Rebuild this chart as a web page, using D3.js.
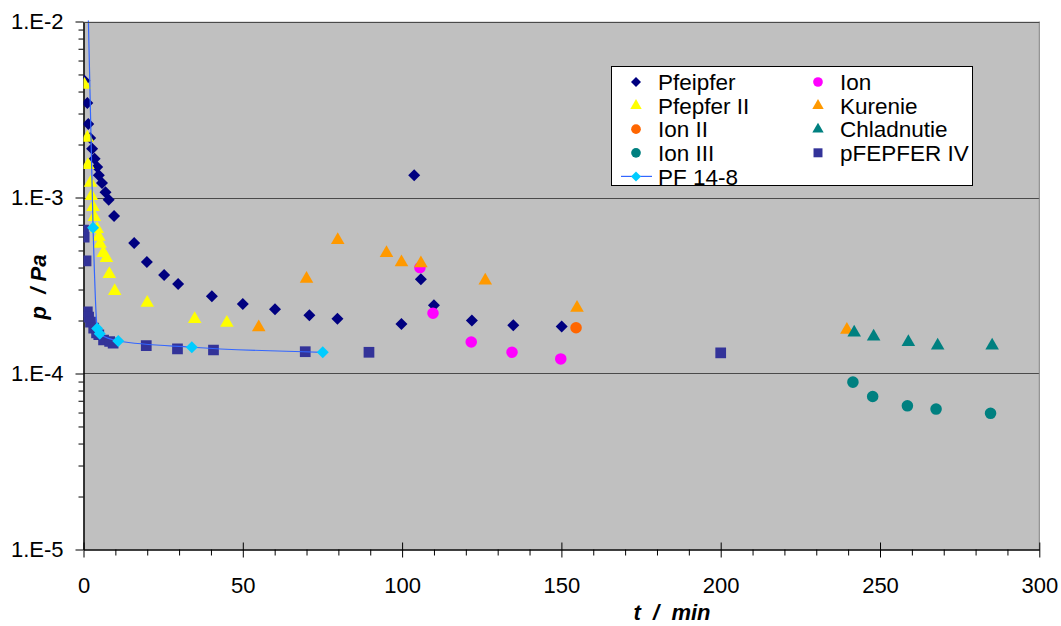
<!DOCTYPE html>
<html>
<head>
<meta charset="utf-8">
<script src="https://cdn.jsdelivr.net/npm/d3@7"></script>
<style>
  body { margin: 0; background: #fff; }
  text { font-family: Arial, "Liberation Sans", sans-serif; }
</style>
</head>
<body>
<svg id="chart" width="1061" height="626"></svg>
<script>
// series data, t in min, p in Pa
var pfeipferT = [0.3, 1.2, 1.5, 2.1, 2.7, 3.5, 4.3, 4.8, 5.8, 6.9, 7.9, 9.6, 15.9, 19.9, 25.3, 29.7, 40.3, 50, 60.1, 70.9, 79.7, 99.8, 103.8, 105.9, 110, 121.9, 134.9, 150.1];
var pfeipferP = [4.61e-3, 3.44e-3, 2.62e-3, 2.18e-3, 1.89e-3, 1.66e-3, 1.49e-3, 1.34e-3, 1.21e-3, 1.07e-3, 9.7e-4, 7.85e-4, 5.51e-4, 4.3e-4, 3.63e-4, 3.23e-4, 2.75e-4, 2.48e-4, 2.32e-4, 2.14e-4, 2.05e-4, 1.91e-4, 1.34e-3, 3.43e-4, 2.44e-4, 2.0e-4, 1.88e-4, 1.85e-4];

var ionT = [105.6, 109.7, 121.7, 134.5, 149.8];
var ionP = [4.0e-4, 2.2e-4, 1.51e-4, 1.32e-4, 1.21e-4];

var pfepfer2T = [0.3, 1.2, 1.4, 2.2, 2.5, 3.0, 3.4, 4.3, 4.8, 5.2, 6.2, 7.2, 8.1, 9.8, 20, 34.9, 45];
var pfepfer2P = [4.36e-3, 2.18e-3, 1.53e-3, 1.21e-3, 1.02e-3, 8.83e-4, 7.75e-4, 6.62e-4, 5.97e-4, 5.45e-4, 4.84e-4, 4.53e-4, 3.67e-4, 2.94e-4, 2.52e-4, 2.04e-4, 1.94e-4];

var kurenieT = [55, 70, 79.8, 95.1, 99.8, 105.9, 126.1, 154.9, 239.6];
var kurenieP = [1.83e-4, 3.45e-4, 5.73e-4, 4.83e-4, 4.28e-4, 4.22e-4, 3.37e-4, 2.36e-4, 1.77e-4];

var ion2T = [154.6];
var ion2P = [1.82e-4];

var chladT = [241.9, 248, 258.9, 268.1, 285.2];
var chladP = [1.71e-4, 1.62e-4, 1.51e-4, 1.44e-4, 1.44e-4];

var ion3T = [241.5, 247.7, 258.6, 267.6, 284.7];
var ion3P = [8.93e-5, 7.4e-5, 6.55e-5, 6.28e-5, 5.94e-5];

var pf4T = [0, 0.2, 0.8, 1.2, 1.6, 2.2, 3.2, 4.1, 4.8, 6.3, 8.2, 9.3, 19.7, 29.5, 40.8, 69.6, 89.6, 200];
var pf4P = [6.53e-4, 5.96e-4, 4.36e-4, 2.24e-4, 2.09e-4, 1.96e-4, 1.81e-4, 1.70e-4, 1.66e-4, 1.55e-4, 1.52e-4, 1.49e-4, 1.44e-4, 1.38e-4, 1.36e-4, 1.33e-4, 1.32e-4, 1.31e-4];

var pf148T = [1.4, 3.0, 4.3, 5.1, 10.9, 34, 75.1];
var pf148P = [1.3e-2, 6.73e-4, 1.80e-4, 1.68e-4, 1.53e-4, 1.41e-4, 1.32e-4];

var xTicks = [0, 50, 100, 150, 200, 250, 300];
var yTicks = [1e-5, 1e-4, 1e-3, 1e-2];
var yTickLabels = ['1.E-5', '1.E-4', '1.E-3', '1.E-2'];

var svg = d3.select('#chart');
var plotLeft = 83.5, plotRight = 1039.3, plotTop = 21.5, plotBottom = 549.5;

var x = d3.scaleLinear().domain([0, 300]).range([plotLeft, plotRight]);
var y = d3.scaleLog().domain([1e-5, 1e-2]).range([plotBottom, plotTop]);

// plot area
svg.append('rect')
	.attr('x', plotLeft).attr('y', plotTop)
	.attr('width', plotRight - plotLeft).attr('height', plotBottom - plotTop)
	.attr('fill', '#c0c0c0');

svg.append('defs').append('clipPath').attr('id', 'clip')
	.append('rect')
	.attr('x', plotLeft).attr('y', plotTop - 1)
	.attr('width', plotRight - plotLeft).attr('height', plotBottom - plotTop + 1);

// gridlines (1.E-2 line is the top of the plot)
svg.append('g').selectAll('line')
	.data(yTicks.slice(1))
	.enter().append('line')
	.attr('x1', plotLeft).attr('x2', plotRight)
	.attr('y1', function(d) { return Math.round(y(d)) + 0.5; })
	.attr('y2', function(d) { return Math.round(y(d)) + 0.5; })
	.attr('stroke', '#4a4a4a')
	.attr('stroke-width', 1);

svg.append('line')
	.attr('x1', plotRight).attr('x2', plotRight)
	.attr('y1', plotTop).attr('y2', plotBottom)
	.attr('stroke', '#808080');

// minor ticks
var minorX = d3.range(0, 301, 10).filter(function(d) { return d % 50 !== 0; });
var minorY = [];
[1e-5, 1e-4, 1e-3].forEach(function(dec) {
	for (var k = 2; k <= 9; k++) minorY.push(dec * k);
});

svg.append('g')
	.attr('transform', 'translate(0,' + plotBottom + ')')
	.call(d3.axisBottom(x).tickValues(minorX).tickSize(6).tickFormat(''))
	.call(function(g) { g.select('.domain').remove(); });

svg.append('g')
	.attr('transform', 'translate(' + plotLeft + ',0)')
	.call(d3.axisLeft(y).tickValues(minorY).tickSize(5).tickFormat(''))
	.call(function(g) { g.select('.domain').remove(); });

// x axis
var xAxis = svg.append('g')
	.attr('transform', 'translate(0,' + plotBottom + ')')
	.call(d3.axisBottom(x).tickValues(xTicks).tickSize(8).tickSizeOuter(0).tickPadding(20));
xAxis.selectAll('.tick line').attr('y1', -7);
xAxis.selectAll('text').attr('font-size', 22).attr('font-family', 'Arial, "Liberation Sans", sans-serif').attr('fill', '#000');
xAxis.select('.domain').attr('stroke', '#000').attr('stroke-width', 1.5);

// y axis
var yAxis = svg.append('g')
	.attr('transform', 'translate(' + plotLeft + ',0)')
	.call(d3.axisLeft(y).tickValues(yTicks).tickSize(8).tickSizeOuter(0).tickPadding(12)
		.tickFormat(function(d, i) { return yTickLabels[i]; }));
yAxis.selectAll('text').attr('font-size', 22).attr('font-family', 'Arial, "Liberation Sans", sans-serif').attr('fill', '#000');
yAxis.select('.domain').attr('stroke', '#000').attr('stroke-width', 1.5);

// axis titles
svg.append('text')
	.attr('transform', 'translate(46,287) rotate(-90)')
	.attr('text-anchor', 'middle')
	.attr('font-size', 22).attr('font-weight', 'bold').attr('font-style', 'italic')
	.style('white-space', 'pre')
	.text('p  / Pa');

svg.append('text')
	.attr('x', 672).attr('y', 620)
	.attr('text-anchor', 'middle')
	.attr('font-size', 22).attr('font-weight', 'bold').attr('font-style', 'italic')
	.style('white-space', 'pre')
	.text('t  /  min');

// markers
var shapes = {
	diamond: { type: d3.symbolSquare, size: 72, rot: 45 },
	triangle: { type: d3.symbolTriangle, size: 80, rot: 0 },
	circle: { type: d3.symbolCircle, size: 105, rot: 0 },
	square: { type: d3.symbolSquare, size: 115, rot: 0 }
};

var series = [
	{ name: 'Pfeipfer', t: pfeipferT, p: pfeipferP, shape: 'diamond', color: '#000080' },
	{ name: 'Ion', t: ionT, p: ionP, shape: 'circle', color: '#ff00ff' },
	{ name: 'Pfepfer II', t: pfepfer2T, p: pfepfer2P, shape: 'triangle', color: '#ffff00' },
	{ name: 'Kurenie', t: kurenieT, p: kurenieP, shape: 'triangle', color: '#ff9900' },
	{ name: 'Ion II', t: ion2T, p: ion2P, shape: 'circle', color: '#ff6600' },
	{ name: 'Chladnutie', t: chladT, p: chladP, shape: 'triangle', color: '#008080' },
	{ name: 'Ion III', t: ion3T, p: ion3P, shape: 'circle', color: '#008080' },
	{ name: 'pFEPFER IV', t: pf4T, p: pf4P, shape: 'square', color: '#333399' },
	{ name: 'PF 14-8', t: pf148T, p: pf148P, shape: 'diamond', color: '#00ccff', line: '#3366ff' }
];

var plot = svg.append('g').attr('clip-path', 'url(#clip)');

var line = d3.line()
	.x(function(d) { return x(d[0]); })
	.y(function(d) { return y(d[1]); })
	.curve(d3.curveMonotoneX);

series.forEach(function(s) {
	var pts = s.t.map(function(t, i) { return [t, s.p[i]]; });
	var sh = shapes[s.shape];
	if (s.line) {
		plot.append('path')
			.datum(pts)
			.attr('d', line)
			.attr('fill', 'none')
			.attr('stroke', s.line)
			.attr('stroke-width', 1.2);
	}
	plot.append('g').selectAll('path')
		.data(pts)
		.enter().append('path')
		.attr('d', d3.symbol().type(sh.type).size(sh.size))
		.attr('transform', function(d) {
			return 'translate(' + x(d[0]) + ',' + y(d[1]) + ') rotate(' + sh.rot + ')';
		})
		.attr('fill', s.color);
});

// top border line at 1.E-2
svg.append('line')
	.attr('x1', plotLeft).attr('x2', plotRight)
	.attr('y1', Math.round(y(1e-2)) + 0.5).attr('y2', Math.round(y(1e-2)) + 0.5)
	.attr('stroke', '#4a4a4a');

// legend
var legendOrder = [
	['Pfeipfer', 'Pfepfer II', 'Ion II', 'Ion III', 'PF 14-8'],
	['Ion', 'Kurenie', 'Chladnutie', 'pFEPFER IV']
];
var legend = svg.append('g');
legend.append('rect')
	.attr('x', 611.5).attr('y', 66.5)
	.attr('width', 361).attr('height', 119)
	.attr('fill', '#fff').attr('stroke', '#000').attr('stroke-width', 1);

var colX = [636, 818];
legendOrder.forEach(function(col, ci) {
	col.forEach(function(name, ri) {
		var s = series.filter(function(d) { return d.name === name; })[0];
		var sh = shapes[s.shape];
		var cy = 82 + ri * 23.6;
		var g = legend.append('g').attr('transform', 'translate(' + colX[ci] + ',' + cy + ')');
		if (s.line) {
			g.append('line').attr('x1', -15).attr('x2', 16).attr('stroke', s.line).attr('stroke-width', 1.2);
		}
		g.append('path')
			.attr('d', d3.symbol().type(sh.type).size(sh.size * 0.7))
			.attr('transform', 'rotate(' + sh.rot + ')')
			.attr('fill', s.color);
		g.append('text')
			.attr('x', 22).attr('dy', '0.36em')
			.attr('font-size', 22.5)
			.text(name);
	});
});
</script>
</body>
</html>
